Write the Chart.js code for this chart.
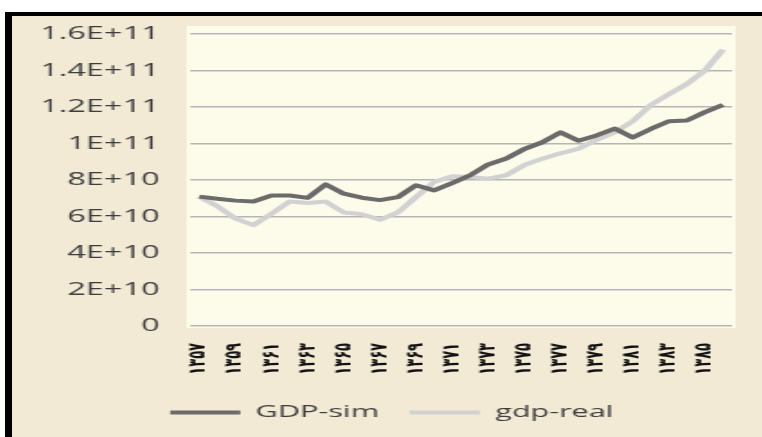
<!DOCTYPE html>
<html>
<head>
<meta charset="utf-8">
<title>GDP-sim / gdp-real</title>
<script src="https://cdn.jsdelivr.net/npm/chart.js@4"></script>
<style>
  html, body { margin:0; padding:0; background:#fff; }
  body { width:762px; height:437px; overflow:hidden; position:relative; }
  /* moldura preta à esquerda e em cima, fundo bege */
  #moldura { position:absolute; left:5px; top:12px; right:0; bottom:0; border-left:7px solid #000; border-top:4px solid #000; background:#f3ead6; overflow:hidden; }
  /* a imagem original está esticada na horizontal */
  #caixa { position:absolute; left:0; top:0; width:417px; height:421px; transform:scaleX(1.8); transform-origin:0 0; }
</style>
</head>
<body>
<div id="moldura"><div id="caixa"><canvas id="grafico"></canvas></div></div>
<script>
// -------------------------------------------
//  DADOS
// -------------------------------------------

var anos = [
    "۱۳۵۷","۱۳۵۸","۱۳۵۹","۱۳۶۰","۱۳۶۱","۱۳۶۲","۱۳۶۳","۱۳۶۴","۱۳۶۵","۱۳۶۶",
    "۱۳۶۷","۱۳۶۸","۱۳۶۹","۱۳۷۰","۱۳۷۱","۱۳۷۲","۱۳۷۳","۱۳۷۴","۱۳۷۵","۱۳۷۶",
    "۱۳۷۷","۱۳۷۸","۱۳۷۹","۱۳۸۰","۱۳۸۱","۱۳۸۲","۱۳۸۳","۱۳۸۴","۱۳۸۵","۱۳۸۶"
]

var gdpSim = [
    7.09e10, 6.97e10, 6.87e10, 6.82e10, 7.15e10, 7.15e10, 7.02e10, 7.76e10, 7.25e10, 7.03e10,
    6.90e10, 7.06e10, 7.71e10, 7.43e10, 7.83e10, 8.26e10, 8.85e10, 9.18e10, 9.70e10, 1.007e11,
    1.061e11, 1.015e11, 1.044e11, 1.082e11, 1.033e11, 1.080e11, 1.122e11, 1.126e11, 1.172e11, 1.211e11
]

var gdpReal = [
    7.09e10, 6.56e10, 5.89e10, 5.53e10, 6.15e10, 6.82e10, 6.74e10, 6.82e10, 6.22e10, 6.13e10,
    5.82e10, 6.22e10, 7.06e10, 7.89e10, 8.20e10, 8.17e10, 8.07e10, 8.26e10, 8.82e10, 9.17e10,
    9.46e10, 9.71e10, 1.020e11, 1.061e11, 1.122e11, 1.211e11, 1.270e11, 1.326e11, 1.400e11, 1.515e11
]

var rotulosY = ["0","2E+10","4E+10","6E+10","8E+10","1E+11","1.2E+11","1.4E+11","1.6E+11"]

// -------------------------------------------
//  PLUGINS: FUNDO DA ÁREA E POSIÇÃO DA LEGENDA
// -------------------------------------------

var fundoPlot = {
    id: "fundoPlot",
    beforeDraw: function(chart) {
        var a = chart.chartArea
        var ctx = chart.ctx
        ctx.save()
        ctx.fillStyle = "#fdfceb"
        ctx.fillRect(a.left - 2, a.top - 8, a.right - a.left + 4, a.bottom - a.top + 10)
        ctx.restore()
    }
}

// a legenda do original fica um pouco à direita do centro
var moveLegenda = {
    id: "moveLegenda",
    afterLayout: function(chart) {
        if (!chart.legend) return
        chart.legend.left += 11
        chart.legend.right += 11
    }
}

// -------------------------------------------
//  GRÁFICO
// -------------------------------------------

var corTexto = "#3d3d3d"

new Chart(document.getElementById("grafico"), {
    type: "line",
    data: {
        labels: anos,
        datasets: [
            { label:"GDP-sim", data:gdpSim, borderColor:"#6b6b6b", backgroundColor:"#6b6b6b", borderWidth:4, pointRadius:0, pointStyle:"line", tension:0, borderJoinStyle:"round" },
            { label:"gdp-real", data:gdpReal, borderColor:"#d2d2d2", backgroundColor:"#d2d2d2", borderWidth:4, pointRadius:0, pointStyle:"line", tension:0, borderJoinStyle:"round" }
        ]
    },
    options: {
        responsive: true,
        maintainAspectRatio: false,
        animation: false,
        layout: { padding: { left:0, right:17, top:18, bottom:6 } },
        plugins: {
            legend: {
                position: "bottom",
                labels: { usePointStyle:true, pointStyle:"line", pointStyleWidth:39, boxWidth:39, color:corTexto, font:{ family:"Open Sans", size:17 }, padding:17 }
            },
            tooltip: { enabled:false }
        },
        scales: {
            x: {
                offset: true,
                grid: { display:false, drawTicks:false },
                border: { display:false },
                ticks: {
                    autoSkip:false, maxRotation:90, minRotation:90, padding:17, color:"#111",
                    font:{ family:"DejaVu Sans", size:13, weight:"bold" },
                    callback: function(v, i) { return i % 2 === 0 ? anos[i] : "" }
                },
                afterFit: function(s) {
                    s.height = 61
                    s.paddingLeft = 0
                    s.paddingRight = 0
                }
            },
            y: {
                min: 0,
                max: 1.6e11,
                grid: { color:"#b5b5b5", lineWidth:1.5, drawTicks:false },
                border: { display:false },
                ticks: {
                    stepSize:2e10, padding:17, color:corTexto,
                    font:{ family:"Open Sans", size:18 },
                    callback: function(v, i) { return rotulosY[i] }
                },
                afterFit: function(s) {
                    s.width = 99
                    // o padding dos ticks não deve empurrar a área para baixo
                    s.paddingTop = 0
                    s.paddingBottom = 0
                }
            }
        }
    },
    plugins: [fundoPlot, moveLegenda]
})
</script>
</body>
</html>
